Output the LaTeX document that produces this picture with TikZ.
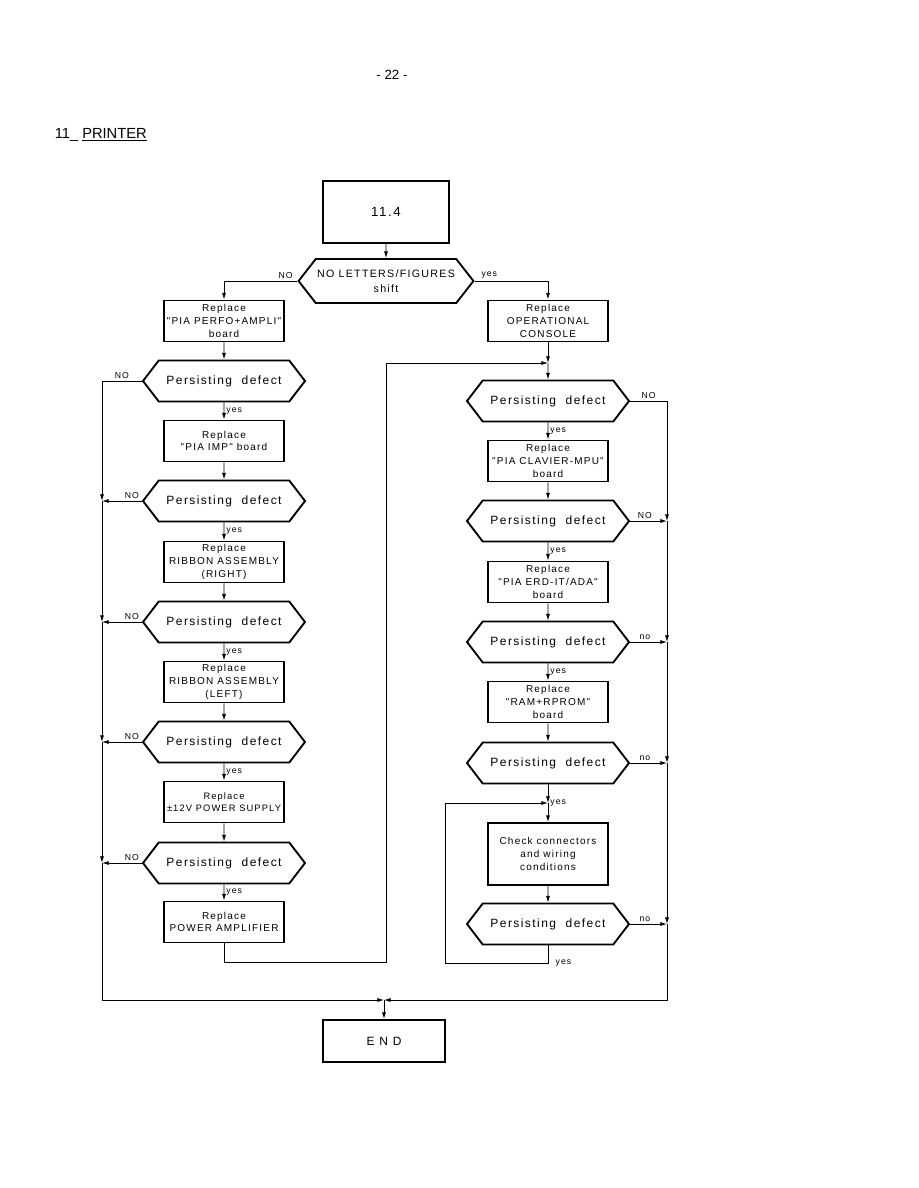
\documentclass[tikz,border=0pt]{standalone}
\usepackage{fontspec}
\setmainfont{Liberation Sans}
\newfontfamily\handfont[LetterSpace=12]{Liberation Sans}
\usetikzlibrary{arrows.meta,shapes.symbols}

\begin{document}
\begin{tikzpicture}[x=0.75pt,y=-0.75pt,line width=0.6pt,
  box/.style={draw,line width=1.4pt,minimum width=90pt,minimum height=30.75pt,
    align=center,inner sep=1pt,font=\handfont\fontsize{7.5}{9.5}\selectfont},
  test/.style={draw,line width=1.4pt,signal,signal to=west and east,
    signal pointer angle=105,minimum width=121.5pt,minimum height=30.75pt,
    inner sep=1pt,font=\handfont\fontsize{9}{10}\selectfont},
  flow/.style={-{Latex[length=5pt,width=3pt]}},
  tag/.style={font=\handfont\fontsize{6.5}{7}\selectfont,inner sep=1.5pt}]
  \useasboundingbox (0,0) rectangle (918,1188);

  % page heading
  \node[font=\fontsize{10}{12}\selectfont] (page) at (392,75) {- 22 -};
  \node[anchor=base west,font=\fontsize{11}{13}\selectfont] (title) at (50,138)
    {11\_ \underline{PRINTER}};

  % top of the chart
  \node[box,minimum width=94.5pt,minimum height=46.5pt,
    font=\handfont\fontsize{10}{12}\selectfont] (start) at (386,212) {11.4};
  \node[test,minimum width=122.25pt,minimum height=33pt,signal pointer angle=104,
    font=\handfont\fontsize{8}{11}\selectfont,align=center] (q0) at (386,281)
    {NO LETTERS/FIGURES\\shift};

  % left column
  \node[box] (b1) at (224,321) {Replace\\"PIA PERFO+AMPLI"\\board};
  \node[test] (d1) at (224,381) {Persisting~ defect};
  \node[box] (b2) at (224,441) {Replace\\"PIA IMP" board};
  \node[test] (d2) at (224,501) {Persisting~ defect};
  \node[box] (b3) at (224,562) {Replace\\RIBBON ASSEMBLY\\(RIGHT)};
  \node[test] (d3) at (224,622) {Persisting~ defect};
  \node[box] (b4) at (224,682) {Replace\\RIBBON ASSEMBLY\\(LEFT)};
  \node[test] (d4) at (224,742) {Persisting~ defect};
  \node[box,font=\handfont\fontsize{7}{9.5}\selectfont] (b5) at (224,802)
    {Replace\\±12V POWER SUPPLY};
  \node[test] (d5) at (224,863) {Persisting~ defect};
  \node[box] (b6) at (224,922) {Replace\\POWER AMPLIFIER};

  % right column
  \node[box] (c1) at (548,321) {Replace\\OPERATIONAL\\CONSOLE};
  \node[test] (d6) at (548,401) {Persisting~ defect};
  \node[box] (c2) at (548,461) {Replace\\"PIA CLAVIER-MPU"\\board};
  \node[test] (d7) at (548,521) {Persisting~ defect};
  \node[box] (c3) at (548,582) {Replace\\"PIA ERD-IT/ADA"\\board};
  \node[test] (d8) at (548,642) {Persisting~ defect};
  \node[box] (c4) at (548,702) {Replace\\"RAM+RPROM"\\board};
  \node[test] (d9) at (548,763) {Persisting~ defect};
  \node[box,minimum height=46.5pt] (chk) at (548,854)
    {Check connectors\\and wiring\\conditions};
  \node[test] (d10) at (548,924) {Persisting~ defect};

  \node[box,minimum width=91.5pt,minimum height=31.5pt,
    font=\handfont\fontsize{9}{11}\selectfont] (end) at (384,1041) {E N D};

  % bus and loop points
  \coordinate (lbus) at (102,1000);
  \coordinate (rbus) at (667,1000);
  \coordinate (join) at (384,1000);
  \coordinate (loopa) at (386,962);
  \coordinate (mergea) at (548,363);
  \coordinate (loopb) at (445,963);
  \coordinate (mergeb) at (548,803);

  \draw[flow] (start) -- (q0);
  \draw[flow] (q0.west) -| node[tag,pos=0.08,above] {NO} (b1.north);
  \draw[flow] (q0.east) -| node[tag,pos=0.1,above] {yes} (c1.north);

  % left chain
  \draw[flow] (b1) -- (d1);
  \draw[flow] (d1) -- node[tag,right] {yes} (b2);
  \draw[flow] (b2) -- (d2);
  \draw[flow] (d2) -- node[tag,right] {yes} (b3);
  \draw[flow] (b3) -- (d3);
  \draw[flow] (d3) -- node[tag,right] {yes} (b4);
  \draw[flow] (b4) -- (d4);
  \draw[flow] (d4) -- node[tag,right] {yes} (b5);
  \draw[flow] (b5) -- (d5);
  \draw[flow] (d5) -- node[tag,right] {yes} (b6);

  % left "no" bus
  \draw[flow] (d1.west) -| node[tag,pos=0.25,above] {NO} (d2.west -| lbus);
  \draw[flow] (d2.west) -- node[tag,pos=0.25,above] {NO} (d2.west -| lbus);
  \draw[flow] (d2.west -| lbus) -- (d3.west -| lbus);
  \draw[flow] (d3.west) -- node[tag,pos=0.25,above] {NO} (d3.west -| lbus);
  \draw[flow] (d3.west -| lbus) -- (d4.west -| lbus);
  \draw[flow] (d4.west) -- node[tag,pos=0.25,above] {NO} (d4.west -| lbus);
  \draw[flow] (d4.west -| lbus) -- (d5.west -| lbus);
  \draw[flow] (d5.west) -- node[tag,pos=0.25,above] {NO} (d5.west -| lbus);
  \draw[flow] (d5.west -| lbus) -- (lbus) -- (join);

  % loop back to the right column
  \draw[flow] (b6.south) |- (loopa) |- (mergea);
  \draw[flow] (c1) -- (mergea);
  \draw[flow] (mergea) -- (d6);

  % right chain
  \draw[flow] (d6) -- node[tag,right] {yes} (c2);
  \draw[flow] (c2) -- (d7);
  \draw[flow] (d7) -- node[tag,right] {yes} (c3);
  \draw[flow] (c3) -- (d8);
  \draw[flow] (d8) -- node[tag,right] {yes} (c4);
  \draw[flow] (c4) -- (d9);
  \draw[flow] (d9) -- (mergeb) node[tag,right] {yes};
  \draw[flow] (mergeb) -- (chk);
  \draw[flow] (chk) -- (d10);
  \draw[flow] (d10.south) |- node[tag,pos=0.5,anchor=west,xshift=4pt] {yes} (loopb) |- (mergeb);

  % right "no" bus
  \draw[flow] (d6.east) -| node[tag,pos=0.25,above] {NO} (d7.east -| rbus);
  \draw[flow] (d7.east) -- node[tag,pos=0.4,above] {NO} (d7.east -| rbus);
  \draw[flow] (d7.east -| rbus) -- (d8.east -| rbus);
  \draw[flow] (d8.east) -- node[tag,pos=0.4,above] {no} (d8.east -| rbus);
  \draw[flow] (d8.east -| rbus) -- (d9.east -| rbus);
  \draw[flow] (d9.east) -- node[tag,pos=0.4,above] {no} (d9.east -| rbus);
  \draw[flow] (d9.east -| rbus) -- (d10.east -| rbus);
  \draw[flow] (d10.east) -- node[tag,pos=0.4,above] {no} (d10.east -| rbus);
  \draw[flow] (d10.east -| rbus) -- (rbus) -- (join);

  \draw[flow] (join) -- (end);
\end{tikzpicture}
\end{document}
